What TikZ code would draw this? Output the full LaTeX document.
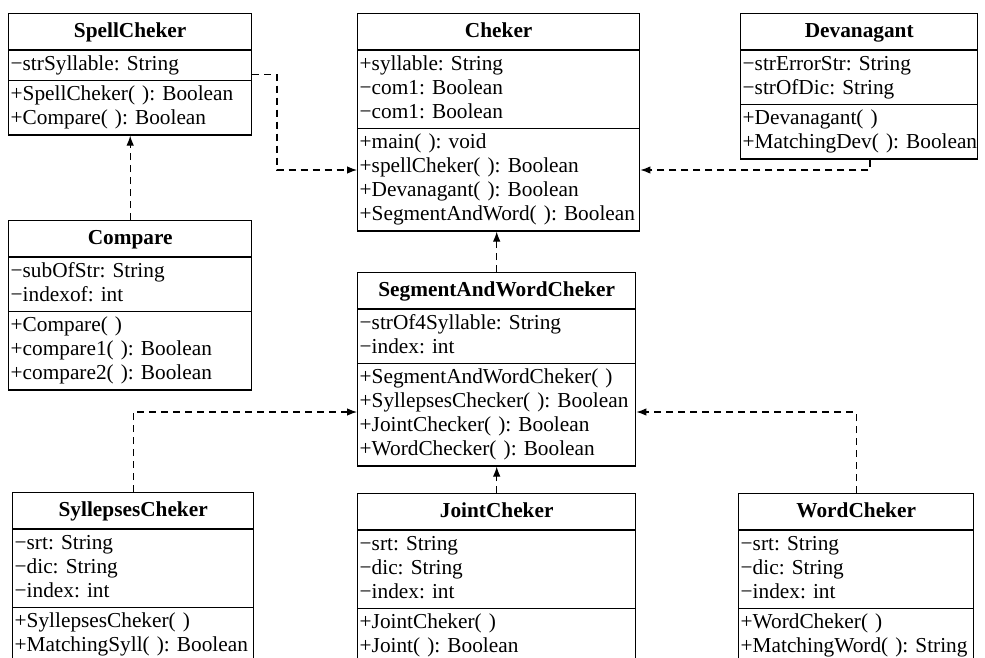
\documentclass[tikz,border=0pt]{standalone}
\usepackage{fontspec}
\setmainfont{Liberation Serif}
\usetikzlibrary{shapes.multipart,arrows.meta}
\newcommand{\cname}[1]{\makebox[\linewidth]{\rule[-9pt]{0pt}{30pt}\textbf{#1}}}
\begin{document}
\begin{tikzpicture}
    [
    x=1pt,y=-1pt,
    umlclass/.style={
      rectangle split,
      rectangle split parts=3,
      draw,
      line width=1.4pt,
      anchor=north west,
      inner xsep=2pt,
      inner ysep=2.5pt,
      align=left,
      font=\fontsize{21.3}{24}\selectfont\frenchspacing
    },
    depend/.style={
      dash pattern=on 7pt off 5pt,
      line width=1.1pt,
      -{Latex[length=10pt,width=7.5pt]}
    }
    ]
    \clip (0,0) rectangle (985,657);
    \node (SpellCheker) at (8,13) [umlclass,text width=239pt]
    {\cname{SpellCheker}
      \nodepart{two}\strut −strSyllable: String
      \nodepart{three}\strut +SpellCheker( ): Boolean\\
      \strut +Compare( ): Boolean};
    \node (Cheker) at (357,13) [umlclass,text width=278pt]
    {\cname{Cheker}
      \nodepart{two}\strut +syllable: String\\
      \strut −com1: Boolean\\
      \strut −com1: Boolean
      \nodepart{three}\strut +main( ): void\\
      \strut +spellCheker( ): Boolean\\
      \strut +Devanagant( ): Boolean\\
      \strut +SegmentAndWord( ): Boolean};
    \node (Devanagant) at (740,13) [umlclass,text width=233pt]
    {\cname{Devanagant}
      \nodepart{two}\strut −strErrorStr: String\\
      \strut −strOfDic: String
      \nodepart{three}\strut +Devanagant( )\\
      \strut \mbox{+MatchingDev( ): Boolean}};
    \node (Compare) at (8,220) [umlclass,text width=239pt]
    {\cname{Compare}
      \nodepart{two}\strut −subOfStr: String\\
      \strut −indexof: int
      \nodepart{three}\strut +Compare( )\\
      \strut +compare1( ): Boolean\\
      \strut +compare2( ): Boolean};
    \node (SegmentAndWordCheker) at (357,272) [umlclass,text width=274pt]
    {\cname{SegmentAndWordCheker}
      \nodepart{two}\strut −strOf4Syllable: String\\
      \strut −index: int
      \nodepart{three}\strut +SegmentAndWordCheker( )\\
      \strut +SyllepsesChecker( ): Boolean\\
      \strut +JointChecker( ): Boolean\\
      \strut +WordChecker( ): Boolean};
    \node (SyllepsesCheker) at (12,492) [umlclass,text width=237pt]
    {\cname{SyllepsesCheker}
      \nodepart{two}\strut −srt: String\\
      \strut −dic: String\\
      \strut −index: int
      \nodepart{three}\strut +SyllepsesCheker( )\\
      \strut +MatchingSyll( ): Boolean};
    \node (JointCheker) at (357,493) [umlclass,text width=274pt]
    {\cname{JointCheker}
      \nodepart{two}\strut −srt: String\\
      \strut −dic: String\\
      \strut −index: int
      \nodepart{three}\strut +JointCheker( )\\
      \strut +Joint( ): Boolean};
    \node (WordCheker) at (738,493) [umlclass,text width=231pt]
    {\cname{WordCheker}
      \nodepart{two}\strut −srt: String\\
      \strut −dic: String\\
      \strut −index: int
      \nodepart{three}\strut +WordCheker( )\\
      \strut +MatchingWord( ): String};
    \draw[depend] (Compare.north) -- (SpellCheker.south);
    \draw[depend] (SpellCheker.east) -| (277,170) -- (Cheker.west |- 0,170);
    \draw[depend] (Devanagant.south -| 870,0) |- (Cheker.east |- 0,170);
    \draw[depend] (SegmentAndWordCheker.north) -- (SegmentAndWordCheker.north |- Cheker.south);
    \draw[depend] (SyllepsesCheker.north) |- (SegmentAndWordCheker.west |- 0,412);
    \draw[depend] (JointCheker.north) -- (JointCheker.north |- SegmentAndWordCheker.south);
    \draw[depend] (WordCheker.north) |- (SegmentAndWordCheker.east |- 0,412);
  \end{tikzpicture}
\end{document}
